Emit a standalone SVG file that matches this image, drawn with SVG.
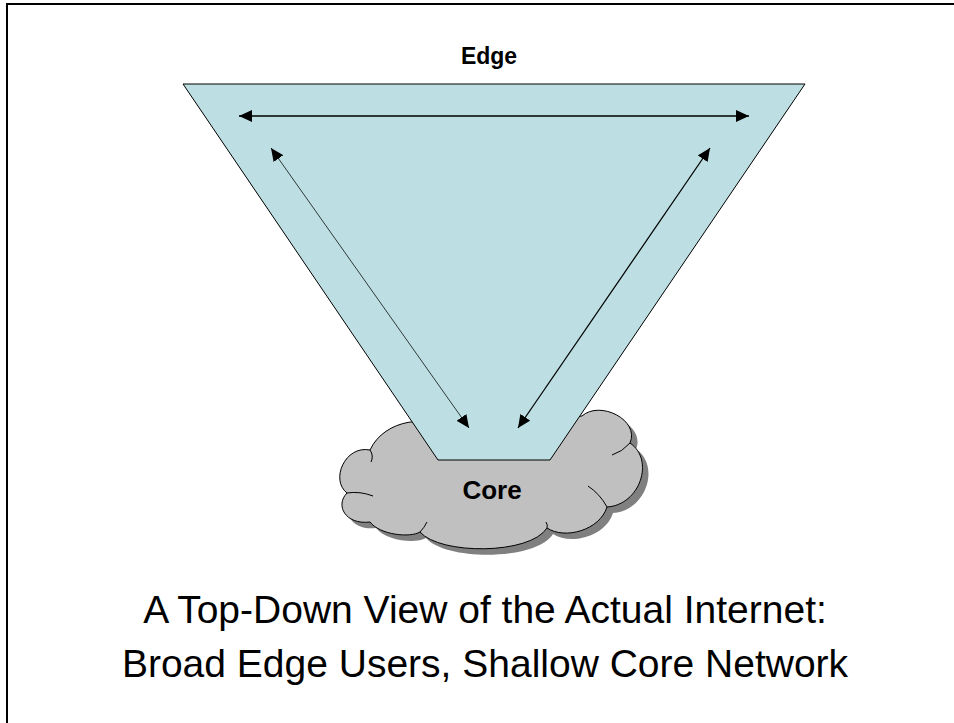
<svg xmlns="http://www.w3.org/2000/svg" width="954" height="723" viewBox="0 0 954 723">
  <style>
    .frame { fill: none; stroke: #000; stroke-width: 2; }
    .cloud { fill: #c0c0c0; stroke: #000; stroke-width: 1; }
    .cloud-shadow { fill: #808080; stroke: none; }
    .crease { fill: none; stroke: #000; stroke-width: 1; }
    .funnel { fill: #bddfe3; stroke: #000; stroke-width: 1; }
    .conn { fill: none; stroke: #000; }
    .label { font-family: "Liberation Sans", Arial, sans-serif; font-weight: bold; fill: #000; text-anchor: middle; }
    .caption { font-family: "Liberation Sans", Arial, sans-serif; font-size: 39px; fill: #000; text-anchor: middle; }
  </style>
  <defs>
    <marker id="arrow" viewBox="0 0 13 12" refX="13" refY="6" markerWidth="13" markerHeight="12" markerUnits="userSpaceOnUse" orient="auto-start-reverse">
      <path d="M0,0 L13,6 L0,12 Z" fill="#000"/>
    </marker>
    <!-- cloud outline: lobes run clockwise from the top-left -->
    <path id="cloudShape" d="M 450,430 C 430,415 385,418 370,450 C 345,445 330,480 347,493 C 335,505 345,525 370,522 C 380,535 410,538 420,532 C 440,555 530,555 547,528 C 565,540 600,530 607,507 C 640,505 655,460 630,443 C 640,420 600,400 582,416 L 540,420 Z"/>
  </defs>

  <rect class="frame" x="7" y="4" width="960" height="740"/>

  <!-- Core network cloud -->
  <g id="core">
    <use href="#cloudShape" class="cloud-shadow" transform="translate(6,6)"/>
    <use href="#cloudShape" class="cloud"/>
    <path class="crease" d="M 370,450 Q 374,456 371,462"/>
    <path class="crease" d="M 347,493 Q 360,491 373,496"/>
    <path class="crease" d="M 420,532 Q 424,528 427,522"/>
    <path class="crease" d="M 547,528 Q 548,525 546,522"/>
    <path class="crease" d="M 607,507 Q 600,494 588,486"/>
    <path class="crease" d="M 630,443 Q 622,452 612,455"/>
    <text class="label" x="492" y="499" font-size="26">Core</text>
  </g>

  <!-- Edge funnel -->
  <g id="edge">
    <polygon class="funnel" points="183,84 805,84 550,460 438,460"/>
    <text class="label" x="489" y="64" font-size="23">Edge</text>
  </g>

  <!-- Connectors -->
  <g id="connectors">
    <line class="conn" x1="239" y1="116" x2="749" y2="116" stroke-width="1.5" marker-start="url(#arrow)" marker-end="url(#arrow)"/>
    <line class="conn" x1="271" y1="148" x2="469" y2="428" stroke-width="0.75" stroke="#444" marker-start="url(#arrow)" marker-end="url(#arrow)"/>
    <line class="conn" x1="710" y1="148" x2="518" y2="428" stroke-width="1.25" marker-start="url(#arrow)" marker-end="url(#arrow)"/>
  </g>

  <!-- Caption -->
  <g id="caption">
    <text class="caption" x="485" y="623">A Top-Down View of the Actual Internet:</text>
    <text class="caption" x="485" y="677">Broad Edge Users, Shallow Core Network</text>
  </g>
</svg>
